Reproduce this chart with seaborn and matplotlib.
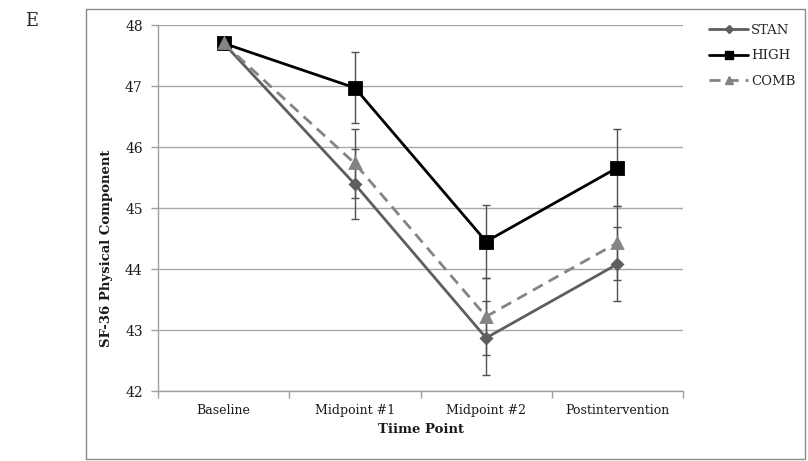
import numpy as np
import matplotlib
matplotlib.use("Agg")
import matplotlib.pyplot as plt
from matplotlib.lines import Line2D
from matplotlib.patches import Rectangle
from matplotlib.ticker import FixedLocator
import seaborn as sns
import pandas as pd

times = ['Baseline', 'Midpoint #1', 'Midpoint #2', 'Postintervention']
groups = ['STAN', 'HIGH', 'COMB']

stan = [47.70, 45.39, 42.87, 44.08]
high = [47.70, 46.97, 44.45, 45.66]
comb = [47.70, 45.73, 43.22, 44.43]

stan_err = [0.0, 0.57, 0.60, 0.61]
high_err = [0.0, 0.58, 0.60, 0.63]
comb_err = [0.0, 0.56, 0.63, 0.61]

y_ticks = [42, 43, 44, 45, 46, 47, 48]

values = {'STAN': stan, 'HIGH': high, 'COMB': comb}
errors = {'STAN': stan_err, 'HIGH': high_err, 'COMB': comb_err}

df = pd.DataFrame({
    'Time': times * len(groups),
    'Group': np.repeat(groups, len(times)),
    'Score': stan + high + comb,
})

palette = {'STAN': '#5e5e5e', 'HIGH': '#000000', 'COMB': '#848484'}
markers = {'STAN': 'D', 'HIGH': 's', 'COMB': '^'}
msizes = {'STAN': 5.5, 'HIGH': 8.2, 'COMB': 7.5}
styles = {'STAN': '-', 'HIGH': '-', 'COMB': (0, (4, 2.5))}

sns.set_style("white")
plt.rcParams['font.family'] = ['DejaVu Serif']

fig = plt.figure(figsize=(8.08, 4.61), dpi=100)
ax = fig.add_axes([158 / 808, 1 - 391 / 461, (683 - 158) / 808, (391 - 25) / 461])

sns.pointplot(data=df, x='Time', y='Score', hue='Group', order=times,
              hue_order=groups, palette=palette,
              markers=[markers[g] for g in groups],
              linestyles=['-', '-', '--'],
              errorbar=None, legend=False, ax=ax)

# line + marker tweaks per group
for line, g in zip(ax.lines, groups):
    line.set_linewidth(2.0)
    line.set_linestyle(styles[g])
    line.set_markersize(msizes[g])
    line.set_markeredgecolor(palette[g])
    line.set_zorder(3)

xpos = np.arange(len(times))
for g in groups:
    ax.errorbar(xpos, values[g], yerr=errors[g], fmt='none', ecolor='#505050',
                elinewidth=1, capsize=3, capthick=1, zorder=2)

ax.set_ylim(42, 48)
ax.set_xlim(-0.5, len(times) - 0.5)
ax.set_yticks(y_ticks)
ax.yaxis.grid(True, color='#a8a8a8', linewidth=1)
ax.set_axisbelow(True)
for side in ['top', 'right']:
    ax.spines[side].set_visible(False)
for side in ['left', 'bottom']:
    ax.spines[side].set_color('#a0a0a0')
    ax.spines[side].set_linewidth(1)

ax.tick_params(axis='y', left=True, length=5, width=1, color='#a0a0a0',
               pad=6, labelsize=10, labelcolor='#1a1a1a')
ax.tick_params(axis='x', which='major', length=0, pad=9, labelsize=9,
               labelcolor='#1a1a1a')
ax.xaxis.set_minor_locator(FixedLocator(np.arange(-0.5, len(times), 1.0)))
ax.tick_params(axis='x', which='minor', bottom=True, length=5, width=1,
               color='#a0a0a0')

ax.set_xlabel('Tiime Point', fontsize=9.5, fontweight='bold', labelpad=5,
              color='#1a1a1a')
ax.set_ylabel('SF-36 Physical Component', fontsize=9.5, fontweight='bold',
              color='#1a1a1a')
ax.yaxis.set_label_coords(-0.085, 0.39)

handles = [Line2D([0], [0], color=palette[g], marker=markers[g],
                  markersize=msizes[g] * 0.72, linestyle=styles[g], linewidth=2)
           for g in groups]
fig.legend(handles, groups, loc='upper left', bbox_to_anchor=(697 / 808, 1 - 12 / 461),
           frameon=False, handlelength=3.0, labelspacing=0.95,
           handletextpad=0.2, prop={'size': 9.5})

fig.patches.append(Rectangle((86 / 808, 2 / 461), (805 - 86) / 808, (459 - 9) / 461,
                             transform=fig.transFigure, fill=False,
                             edgecolor='#8a8a8a', linewidth=1))
fig.text(25 / 808, 1 - 26 / 461, 'E', fontsize=13, va='baseline', ha='left')

plt.savefig('out.png', dpi=100)
